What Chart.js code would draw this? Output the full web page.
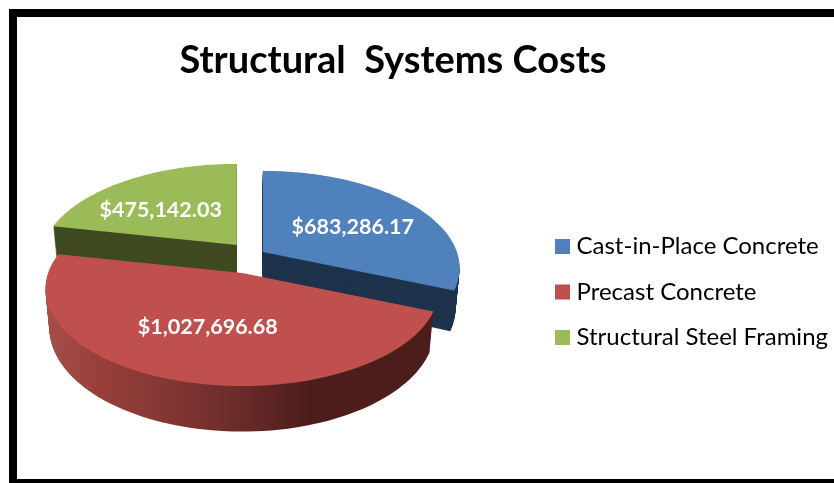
<!DOCTYPE html>
<html>
<head>
<meta charset="utf-8">
<title>Structural Systems Costs</title>
<script src="https://cdn.jsdelivr.net/npm/chart.js@4/dist/chart.umd.min.js"></script>
<style>
    html, body { margin: 0; padding: 0; background: #fff; overflow: hidden; width: 834px; height: 483px; }
    #frame { position: absolute; left: 9px; top: 9px; width: 900px; box-sizing: border-box; border: 8px solid #000; border-bottom: 4px solid #000; height: 474px; }
    #stage { position: absolute; left: -32px; top: 0; width: 870px; height: 483px; }
</style>
</head>
<body>
<div id="frame"></div>
<div id="stage"><canvas id="costChart" width="870" height="483"></canvas></div>
<script>
// Chart data
const categories = ['Cast-in-Place Concrete', 'Precast Concrete', 'Structural Steel Framing'];
const costs = [683286.17, 1027696.68, 475142.03];
const faceColors = ['#4f81bd', '#c0504d', '#9bbb59'];
const wallColors = ['#1e334b', '#4c1d1b', '#404a20'];

// Each slice is pulled out of the pie by its own distance (Chart.js divides this by 4)
const sliceOffsets = [45, 154, 106];
// Where the value labels sit: fraction of the radius, and a turn away from the slice middle
const labelRadius = [0.56, 0.55, 0.57];
const labelTurn = [0.065, 0, -0.139];

// Fake 3D view: vertical squash, perspective strength and extrusion height
const TILT = 0.487;
const PERSPECTIVE = 0.165;
const DEPTH = 38;
const BASE_SHRINK = 0.02;

const money = value => '$' + value.toLocaleString('en-US', { minimumFractionDigits: 2, maximumFractionDigits: 2 });

// Maps a point of the flat pie (angle, fraction of radius) onto the tilted view
function projectPoint(arc, angle, fraction, depth) {
    const mid = (arc.startAngle + arc.endAngle) / 2;
    const off = arc.options.offset / 4;
    const apexX = arc.x + Math.cos(mid) * off;
    const apexY = arc.y + Math.sin(mid) * off * TILT;
    const r = arc.outerRadius * fraction;
    const w = 1 - PERSPECTIVE * fraction * Math.sin(angle);
    const shrink = 1 - BASE_SHRINK * depth / DEPTH;
    return {
        x: apexX + (r * Math.cos(angle) / w) * shrink,
        y: apexY + (r * TILT * Math.sin(angle) + depth) / w
    };
}

function traceSlice(ctx, arc, depth) {
    const apex = projectPoint(arc, arc.startAngle, 0, depth);
    ctx.beginPath();
    ctx.moveTo(apex.x, apex.y);
    const steps = 90;
    for (let i = 0; i <= steps; i++) {
        const angle = arc.startAngle + (arc.endAngle - arc.startAngle) * i / steps;
        const p = projectPoint(arc, angle, 1, depth);
        ctx.lineTo(p.x, p.y);
    }
    ctx.closePath();
}

// Side shading of the large front slice, dark towards the right
function redWallFill(ctx, arc) {
    const left = arc.x - arc.outerRadius - 20;
    const g = ctx.createLinearGradient(left, 0, left + 270, 0);
    g.addColorStop(0, '#a8504c');
    g.addColorStop(0.22, '#983f3c');
    g.addColorStop(0.45, '#853734');
    g.addColorStop(0.75, '#692b29');
    g.addColorStop(1, '#4c1d1b');
    return g;
}

const tiltedPiePlugin = {
    id: 'tiltedPie',
    afterLayout(chart) {
        // the heading sits left of the canvas middle
        chart.titleBlock.left = 0;
        chart.titleBlock.right = 850;
    },
    beforeDatasetDraw(chart) {
        const ctx = chart.ctx;
        const arcs = chart.getDatasetMeta(0).data;
        // paint the back slices first so the front one covers them
        const order = arcs.map((arc, i) => i).sort((a, b) => {
            const midOf = arc => Math.sin((arc.startAngle + arc.endAngle) / 2);
            return midOf(arcs[a]) - midOf(arcs[b]);
        });
        ctx.save();
        order.forEach(i => {
            const arc = arcs[i];
            ctx.fillStyle = i === 1 ? redWallFill(ctx, arc) : wallColors[i];
            for (let d = DEPTH; d > 0; d--) {
                traceSlice(ctx, arc, d);
                ctx.fill();
            }
            traceSlice(ctx, arc, 0);
            ctx.fillStyle = faceColors[i];
            ctx.fill();
        });
        ctx.restore();
        return false;
    },
    afterDatasetsDraw(chart) {
        const ctx = chart.ctx;
        ctx.save();
        ctx.font = 'bold 21.5px Lato';
        ctx.fillStyle = '#fff';
        ctx.textAlign = 'center';
        ctx.textBaseline = 'middle';
        chart.getDatasetMeta(0).data.forEach((arc, i) => {
            const mid = (arc.startAngle + arc.endAngle) / 2;
            const p = projectPoint(arc, mid + labelTurn[i], labelRadius[i], 0);
            ctx.fillText(money(costs[i]), p.x, p.y);
        });
        ctx.restore();
    }
};

new Chart(document.getElementById('costChart'), {
    type: 'pie',
    data: {
        labels: categories,
        datasets: [{
            data: costs,
            backgroundColor: faceColors,
            borderColor: faceColors,
            borderWidth: 11,
            offset: sliceOffsets
        }]
    },
    options: {
        responsive: false,
        animation: false,
        radius: 194,
        layout: { padding: { left: 0, right: 0, top: 0, bottom: 112 } },
        plugins: {
            title: {
                display: true,
                text: 'Structural  Systems Costs',
                color: '#000',
                font: { family: 'Lato', size: 38, weight: 'bold' },
                padding: { top: 38, bottom: 55.4 }
            },
            legend: {
                position: 'right',
                align: 'end',
                labels: {
                    boxWidth: 4,
                    boxHeight: 4,
                    padding: 21.5,
                    color: '#000',
                    font: { family: 'Lato', size: 24 }
                }
            },
            tooltip: { enabled: false }
        }
    },
    plugins: [tiltedPiePlugin]
});
</script>
</body>
</html>
